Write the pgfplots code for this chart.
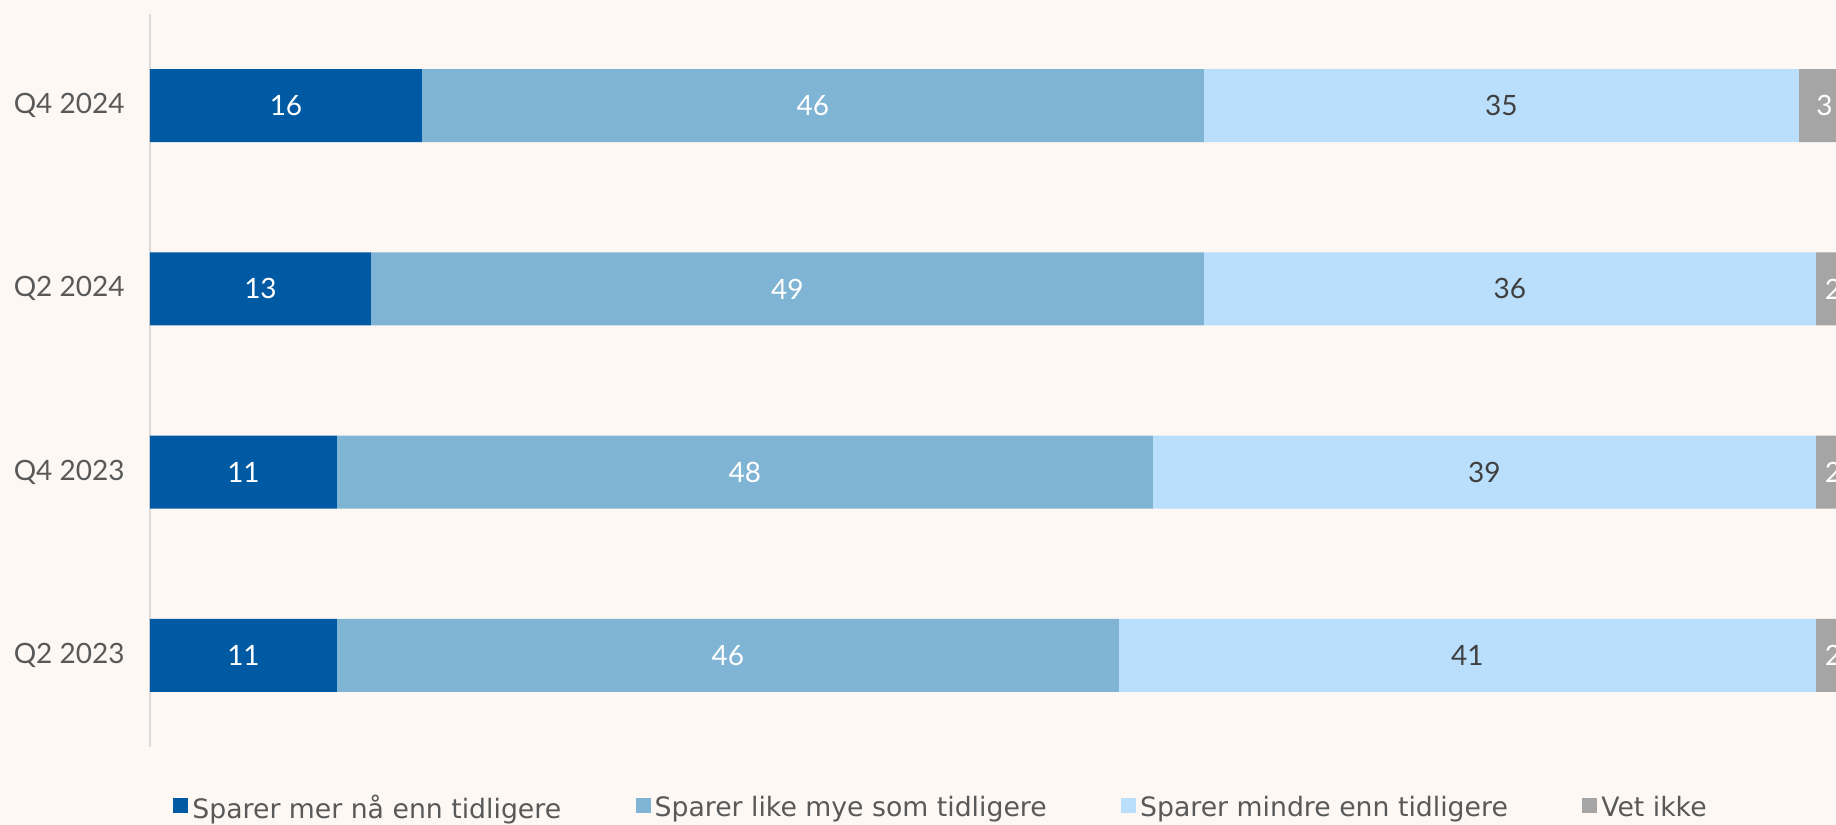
\documentclass[border=0pt]{standalone}
\usepackage{pgfplots}
\usepackage{pgfplotstable}
\pgfplotsset{compat=1.18}
\usepackage{fontspec}
\setmainfont{Lato}
\newfontfamily\legendfont{DejaVu Sans}
\usetikzlibrary{backgrounds}
\definecolor{bgc}{HTML}{FDF8F4}
\definecolor{c1}{HTML}{005AA3}
\definecolor{c2}{HTML}{7FB4D4}
\definecolor{c3}{HTML}{B9DFFD}
\definecolor{c4}{HTML}{A5A5A5}
\definecolor{tickc}{HTML}{595959}
\definecolor{darkl}{HTML}{404040}

\pgfplotstableread{
cat mer like mindre vet
0 11 46 41 2
1 11 48 39 2
2 13 49 36 2
3 16 46 35 3
}\datatable

\pgfplotstableread{
x y lab
5.5 0 11
34 0 46
99 0 2
5.5 1 11
35 1 48
99 1 2
6.5 2 13
37.5 2 49
99 2 2
8 3 16
39 3 46
98.5 3 3
}\labwhite

\pgfplotstableread{
x y lab
77.5 0 41
78.5 1 39
80 2 36
79.5 3 35
}\labdark

\pgfplotsset{
  common/.style={
    scale only axis,
    width=843pt, height=366.5pt,
    xmin=0, xmax=99.18,
    ymin=-0.5, ymax=3.5,
  }
}

\begin{document}
\begin{tikzpicture}
\begin{axis}[
  common,
  xbar stacked,
  bar width=36.5pt,
  axis x line=none,
  axis y line*=left,
  y axis line style={draw=black!14, line width=1pt, -},
  xtick=\empty,
  ytick={0,1,2,3},
  yticklabels={Q2 2023, Q4 2023, Q2 2024, Q4 2024},
  major tick length=0pt,
  yticklabel style={font=\fontsize{14}{16}\selectfont, text=tickc, inner sep=0pt, xshift=-12.5pt},
  legend columns=4,
  legend style={
    at={(0,0)}, anchor=west, xshift=11.5pt, yshift=-30.5pt,
    draw=none, fill=none, inner sep=0pt,
    font=\legendfont\fontsize{13.35}{15}\selectfont, text=tickc,
    nodes={inner sep=0pt},
    /tikz/every odd column/.append style={column sep=2pt},
    /tikz/every even column/.append style={column sep=37.2pt},
  },
  legend image code/.code={\fill[#1] (0pt,-2.5pt) rectangle (7.5pt,5pt);},
]
\addplot[fill=c1, draw=none] table[x=mer, y=cat] {\datatable};
\addplot[fill=c2, draw=none] table[x=like, y=cat] {\datatable};
\addplot[fill=c3, draw=none] table[x=mindre, y=cat] {\datatable};
\addplot[fill=c4, draw=none] table[x=vet, y=cat] {\datatable};
\legend{Sparer mer nå enn tidligere, Sparer like mye som tidligere, Sparer mindre enn tidligere, Vet ikke}
\end{axis}
\begin{axis}[
  common,
  axis lines=none,
  xtick=\empty, ytick=\empty,
  clip=false,
]
\addplot[draw=none, mark=none, nodes near coords, point meta=explicit symbolic,
  every node near coord/.append style={anchor=center, text=white, font=\fontsize{14}{16}\selectfont}]
  table[x=x, y=y, meta=lab] {\labwhite};
\addplot[draw=none, mark=none, nodes near coords, point meta=explicit symbolic,
  every node near coord/.append style={anchor=center, text=darkl, font=\fontsize{14}{16}\selectfont}]
  table[x=x, y=y, meta=lab] {\labdark};
\end{axis}
\pgfresetboundingbox
\path[use as bounding box] ([shift={(-75pt,-39pt)}]current axis.south west) rectangle ([shift={(0pt,7pt)}]current axis.north east);
\begin{scope}[on background layer]
\fill[bgc] ([shift={(-75pt,-39pt)}]current axis.south west) rectangle ([shift={(0pt,7pt)}]current axis.north east);
\end{scope}
\end{tikzpicture}
\end{document}
